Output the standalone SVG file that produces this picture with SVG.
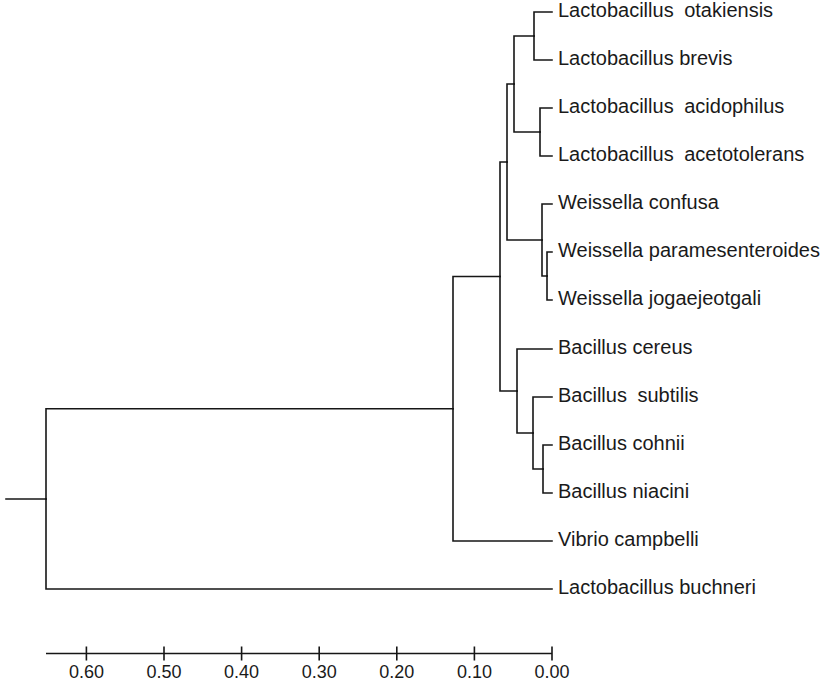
<svg xmlns="http://www.w3.org/2000/svg" width="827" height="686" viewBox="0 0 827 686">
<style>
.e{fill:none;stroke:#161616;stroke-width:1.6;stroke-linecap:square}
.lbl{font-family:"Liberation Sans",Arial,sans-serif;font-size:20px;fill:#1a1a1a}
.ax{fill:none;stroke:#161616;stroke-width:1.6}
.tk{font-family:"Liberation Sans",Arial,sans-serif;font-size:18px;fill:#1a1a1a;text-anchor:middle}
</style>
<rect width="827" height="686" fill="#ffffff"/>
<g id="connectors">
<path class="e" d="M6 499H46"/>
<path class="e" d="M46 499V408.7H453"/>
<path class="e" d="M46 499V589H552"/>
<path class="e" d="M453 408.7V276.5H500"/>
<path class="e" d="M453 408.7V541H552"/>
<path class="e" d="M500 276.5V162H507"/>
<path class="e" d="M500 276.5V391H517"/>
<path class="e" d="M507 162V84H514"/>
<path class="e" d="M507 162V240H542"/>
<path class="e" d="M514 84V36H534"/>
<path class="e" d="M514 84V132H540"/>
<path class="e" d="M534 36V12H552"/>
<path class="e" d="M534 36V60H552"/>
<path class="e" d="M540 132V108H552"/>
<path class="e" d="M540 132V156H552"/>
<path class="e" d="M542 240V204H552"/>
<path class="e" d="M542 240V276H547"/>
<path class="e" d="M547 276V252H552"/>
<path class="e" d="M547 276V300H552"/>
<path class="e" d="M517 391V349H552"/>
<path class="e" d="M517 391V433H533"/>
<path class="e" d="M533 433V397H552"/>
<path class="e" d="M533 433V469H543"/>
<path class="e" d="M543 469V445H552"/>
<path class="e" d="M543 469V493H552"/>
</g>
<g id="leaf-otakiensis"><text class="lbl" x="558" y="17">Lactobacillus <tspan dx="5">otakiensis</tspan></text></g>
<g id="leaf-brevis"><text class="lbl" x="558" y="65">Lactobacillus brevis</text></g>
<g id="leaf-acidophilus"><text class="lbl" x="558" y="113">Lactobacillus <tspan dx="5">acidophilus</tspan></text></g>
<g id="leaf-acetotolerans"><text class="lbl" x="558" y="161">Lactobacillus <tspan dx="5">acetotolerans</tspan></text></g>
<g id="leaf-confusa"><text class="lbl" x="558" y="209">Weissella confusa</text></g>
<g id="leaf-paramesenteroides"><text class="lbl" x="558" y="257">Weissella paramesenteroides</text></g>
<g id="leaf-jogaejeotgali"><text class="lbl" x="558" y="305">Weissella jogaejeotgali</text></g>
<g id="leaf-cereus"><text class="lbl" x="558" y="354">Bacillus cereus</text></g>
<g id="leaf-subtilis"><text class="lbl" x="558" y="402">Bacillus <tspan dx="5">subtilis</tspan></text></g>
<g id="leaf-cohnii"><text class="lbl" x="558" y="450">Bacillus cohnii</text></g>
<g id="leaf-niacini"><text class="lbl" x="558" y="498">Bacillus niacini</text></g>
<g id="leaf-campbelli"><text class="lbl" x="558" y="546">Vibrio campbelli</text></g>
<g id="leaf-buchneri"><text class="lbl" x="558" y="594">Lactobacillus buchneri</text></g>
<g id="axis">
<path class="ax" d="M46 653.5H552M552 646.5V660.5M474.4 646.5V660.5M396.8 646.5V660.5M319.2 646.5V660.5M241.6 646.5V660.5M164 646.5V660.5M86.4 646.5V660.5"/>
<text class="tk" x="86.4" y="678">0.60</text>
<text class="tk" x="164" y="678">0.50</text>
<text class="tk" x="241.6" y="678">0.40</text>
<text class="tk" x="319.2" y="678">0.30</text>
<text class="tk" x="396.8" y="678">0.20</text>
<text class="tk" x="474.4" y="678">0.10</text>
<text class="tk" x="552" y="678">0.00</text>
</g>
</svg>
